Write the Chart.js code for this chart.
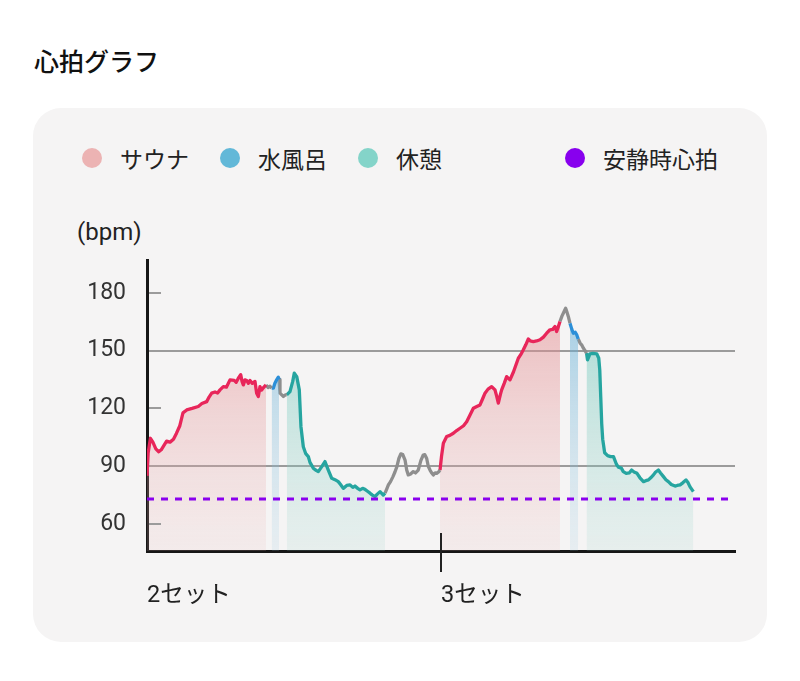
<!DOCTYPE html>
<html lang="ja">
<head>
<meta charset="utf-8">
<script src="https://cdn.jsdelivr.net/npm/chart.js@4.4.1/dist/chart.umd.min.js"></script>
<style>
  body { margin: 0; width: 800px; height: 681px; background: #fff; position: relative; overflow: hidden;
         font-family: Roboto, "Noto Sans CJK JP", sans-serif; color: #222; }
  #title { position: absolute; left: 34px; top: 44px; font-size: 25px; font-weight: 500; line-height: 32px;
           font-family: "Noto Sans CJK JP", sans-serif; color: #111; }
  #card { position: absolute; left: 33px; top: 108px; width: 734px; height: 534px; border-radius: 28px; background: #f5f4f4; }
  #legend { position: absolute; left: 82px; top: 143px; width: 636px; height: 30px; display: flex; align-items: center; }
  .item { display: flex; align-items: center; flex-shrink: 0; margin-right: 31px; font-size: 23px; font-family: "Noto Sans CJK JP", sans-serif; color: #222; }
  .item:last-child { margin-left: auto; margin-right: 0; }
  .dot { width: 20px; height: 20px; flex-shrink: 0; border-radius: 50%; margin-right: 18px; }
  #unit { position: absolute; left: 77px; top: 217px; font-size: 24px; line-height: 30px; color: #222; }
  #wrap { position: absolute; left: 40px; top: 240px; width: 720px; height: 380px; }
</style>
</head>
<body>
<div id="title">心拍グラフ</div>
<div id="card"></div>
<div id="legend"></div>
<div id="unit">(bpm)</div>
<div id="wrap"><canvas id="hr" width="720" height="380"></canvas></div>

<script>
// 凡例
const legendLabels = ['サウナ', '水風呂', '休憩', '安静時心拍'];
const legendColors = ['#ecb3b3', '#62b8d8', '#84d4c9', '#8800ee'];

// 軸
const xTickValues = [0, 30];
const xLabels = ['2セット', '3セット'];
const yTickValues = [60, 90, 120, 150, 180];
const gridValues = [90, 150];        // 横いっぱいの補助線
const shortTickValues = [60, 120, 180];
const restingHR = 73;

// 心拍 [時間, bpm]  (2セット目)
const sauna2 = [[0,85],[0.12,97],[0.35,104.5],[0.6,102.5],[0.9,99],[1.2,97.5],[1.45,98.5],[1.7,100.5],[2.0,103],[2.35,102.5],
  [2.7,104],[3.0,107],[3.35,111],[3.67,117.7],[4.05,119.2],[4.6,120],[5.23,121],[5.6,122.5],[6.09,123.5],[6.35,126],
  [6.6,127.9],[6.94,128.5],[7.2,128],[7.45,129.6],[7.79,131.3],[8.1,131],[8.47,134.8],[8.9,134.5],[9.1,133.5],[9.32,135.7],
  [9.56,137.5],[9.7,134],[9.83,132.2],[10.0,134.8],[10.17,134.5],[10.35,133],[10.51,134.5],[10.75,133],[11.02,134],[11.19,127.9],
  [11.36,126.2],[11.53,131.3],[11.7,129.5],[11.84,130.5],[12.14,132.2]];
const move2a = [[12.14,132.2],[12.35,130.8],[12.55,131.5],[12.72,130.5]];
const water2 = [[12.72,130.5],[12.89,130.5],[13.05,133],[13.23,134.8],[13.4,136.2],[13.47,135]];
const move2b = [[13.47,135],[13.57,127.9],[13.75,127],[13.91,126.2],[14.1,127],[14.26,127]];
const rest2 = [[14.26,127],[14.59,128.7],[14.87,134],[15.03,138.3],[15.28,136.5],[15.54,129.6],[15.71,110.5],[15.95,100.1],
  [16.2,96.5],[16.46,95],[16.63,92],[16.97,89],[17.2,88],[17.48,87.2],[17.83,89.8],[18.16,92.4],[18.5,88],[18.85,83.7],
  [19.18,83],[19.52,82],[19.75,80.5],[20.03,78.5],[20.38,80],[20.72,80.3],[21.0,79],[21.22,79.7],[21.5,78.5],[21.73,77.7],
  [22.0,78.5],[22.24,78],[22.5,77],[22.76,76],[23.0,75],[23.27,74.2],[23.5,75.5],[23.78,76.8],[24.11,75],[24.29,76]];
const move2c = [[24.29,76],[24.45,78],[24.63,80.3],[24.85,82],[25.1,84.6],[25.3,87],[25.5,89.8],[25.7,94],[25.9,96.4],[26.1,96],
  [26.33,93.2],[26.5,88],[26.66,85.5],[26.9,86],[27.17,87.2],[27.4,86.5],[27.68,88],[27.95,93],[28.19,95.8],[28.35,96],
  [28.54,94],[28.7,90],[28.88,88],[29.05,86.5],[29.22,85.5],[29.4,86.5],[29.56,86.3],[29.75,87],[29.9,88]];

// 心拍 [時間, bpm]  (3セット目)
const sauna3 = [[29.9,88],[30.05,95],[30.24,101.9],[30.58,105.4],[30.9,106],[31.26,107.1],[31.6,108.5],[31.94,109.7],[32.3,111],
  [32.62,113.1],[33.0,117],[33.3,120.1],[33.65,121],[33.98,121.8],[34.25,125],[34.49,127.9],[34.8,130],[35.17,131.3],[35.51,129.6],
  [35.7,126],[35.85,122.7],[36.05,127],[36.19,129.6],[36.45,133],[36.7,136.5],[37.04,134.8],[37.4,139],[37.89,146],[38.15,148],
  [38.4,150.4],[38.65,153],[38.91,156],[39.1,155],[39.42,154.7],[39.75,155],[40.1,155.6],[40.45,157],[40.78,159],[41.12,160.8],
  [41.4,161],[41.63,162.5],[41.8,159.9],[41.95,162],[42.14,165.1]];
const move3a = [[42.14,165.1],[42.35,168],[42.48,169.4],[42.72,172],[42.85,170],[42.99,167.7],[43.16,164.2]];
const water3 = [[43.16,164.2],[43.35,161],[43.5,159],[43.7,159.5],[43.85,158.2],[44.0,156]];
const move3b = [[44.0,156],[44.19,153.9],[44.35,153],[44.52,151.3],[44.7,150],[44.85,148.7]];
const rest3 = [[44.85,148.7],[44.95,145.2],[45.2,148.3],[45.5,148.5],[45.9,148.3],[46.1,146],[46.2,140],[46.3,126],[46.4,112],
  [46.5,104],[46.7,97],[47.0,95.5],[47.3,95],[47.6,95],[47.9,91],[48.1,89.5],[48.4,89],[48.6,87.2],[48.9,86.3],[49.2,86.5],
  [49.45,88],[49.7,87],[50.0,86.3],[50.3,84],[50.66,82],[50.9,82.5],[51.17,82.9],[51.4,84],[51.68,85.5],[51.9,87],[52.18,88],
  [52.4,86.5],[52.7,84.6],[52.95,83],[53.2,82],[53.5,80.5],[53.88,79.7],[54.1,80],[54.4,80.3],[54.7,81.5],[55.0,82.9],
  [55.2,81.5],[55.4,79.4],[55.75,76.8]];

const series = [
  ['sauna', sauna2], ['move', move2a], ['water', water2], ['move', move2b], ['rest', rest2], ['move', move2c],
  ['sauna', sauna3], ['move', move3a], ['water', water3], ['move', move3b], ['rest', rest3]
];

const phaseStyle = {
  sauna: { line: '#e8265a', top: 'rgba(226,125,130,0.6)', bottom: 'rgba(236,185,185,0.14)' },
  water: { line: '#2c8fd8', top: 'rgba(80,165,210,0.6)', bottom: 'rgba(150,200,225,0.14)' },
  rest:  { line: '#26a5a0', top: 'rgba(90,195,180,0.6)', bottom: 'rgba(150,210,200,0.14)' },
  move:  { line: '#8e8e8e' }
};

// 凡例を作る
const legendEl = document.getElementById('legend');
legendLabels.forEach((label, i) => {
  const item = document.createElement('div');
  item.className = 'item';
  item.innerHTML = `<span class="dot" style="background:${legendColors[i]}"></span>${label}`;
  legendEl.appendChild(item);
});

function gradient(top, bottom) {
  return (context) => {
    const { chart } = context;
    const area = chart.chartArea;
    if (!area) return top;
    const g = chart.ctx.createLinearGradient(0, area.top, 0, area.bottom);
    g.addColorStop(0, top);
    g.addColorStop(1, bottom);
    return g;
  };
}

const datasets = [{
  label: '安静時心拍',
  data: [{ x: 0, y: restingHR }, { x: 60, y: restingHR }],
  borderColor: '#8a00ee',
  borderWidth: 3,
  borderDash: [7, 7],
  pointRadius: 0,
  fill: false
}];

series.forEach(([phase, pts]) => {
  const st = phaseStyle[phase];
  datasets.push({
    label: phase,
    data: pts.map(([x, y]) => ({ x, y })),
    borderColor: st.line,
    borderWidth: 3.3,
    pointRadius: 0,
    tension: 0,
    borderJoinStyle: 'round',
    fill: st.top ? 'start' : false,
    backgroundColor: st.top ? gradient(st.top, st.bottom) : 'transparent'
  });
});

// 短い目盛りと「3セット」の縦線
const axisMarks = {
  id: 'axisMarks',
  afterDatasetsDraw(chart) {
    const { ctx, chartArea: a, scales: { x, y } } = chart;
    ctx.save();
    ctx.lineWidth = 2;
    ctx.strokeStyle = '#9b9b9b';
    shortTickValues.forEach(v => {
      const py = Math.round(y.getPixelForValue(v));
      ctx.beginPath();
      ctx.moveTo(a.left + 2, py);
      ctx.lineTo(a.left + 14, py);
      ctx.stroke();
    });
    ctx.strokeStyle = '#222';
    const px = Math.round(x.getPixelForValue(xTickValues[1]));
    ctx.beginPath();
    ctx.moveTo(px, a.bottom - 18);
    ctx.lineTo(px, a.bottom + 21);
    ctx.stroke();
    ctx.restore();
  }
};

new Chart(document.getElementById('hr'), {
  type: 'line',
  data: { datasets },
  plugins: [axisMarks],
  options: {
    responsive: false,
    animation: false,
    devicePixelRatio: 1,
    layout: { padding: { top: 20, right: 25, left: 0, bottom: 0 } },
    plugins: { legend: { display: false }, tooltip: { enabled: false } },
    scales: {
      x: {
        type: 'linear',
        min: 0,
        max: 60,
        afterBuildTicks: s => { s.ticks = xTickValues.map(v => ({ value: v })); },
        afterFit: s => { s.height = 69; },
        grid: { display: false, drawTicks: false },
        border: { color: '#161616', width: 3 },
        ticks: {
          align: 'start',
          padding: 31,
          autoSkip: false,
          maxRotation: 0,
          color: '#222',
          font: { family: 'Roboto, "Noto Sans CJK JP"', size: 23.5 },
          callback: (v, i) => xLabels[i]
        }
      },
      y: {
        type: 'linear',
        min: 46,
        max: 197,
        afterBuildTicks: s => { s.ticks = yTickValues.map(v => ({ value: v })); },
        afterFit: s => { s.width = 107; s.paddingTop = 0; s.paddingBottom = 0; },
        grid: {
          drawTicks: false,
          lineWidth: 2,
          color: c => (c.tick && gridValues.includes(c.tick.value)) ? '#9b9b9b' : 'rgba(0,0,0,0)'
        },
        border: { color: '#161616', width: 3 },
        ticks: { padding: 21, color: '#333', font: { family: 'Roboto', size: 23 } }
      }
    }
  }
});
</script>
</body>
</html>
